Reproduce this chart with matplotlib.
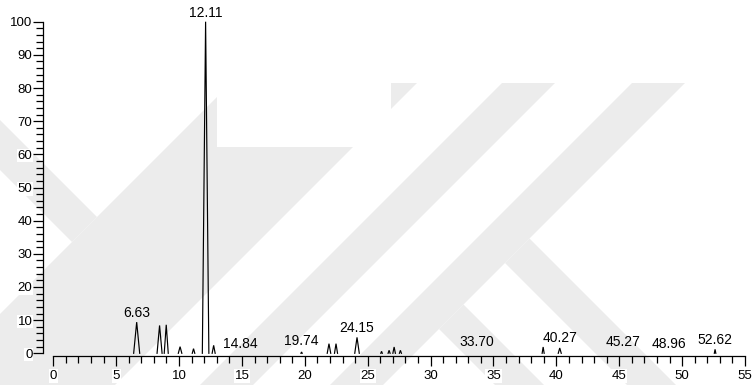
import matplotlib.pyplot as plt
from matplotlib.patches import Polygon, Rectangle
from matplotlib.ticker import MultipleLocator

plt.rcParams['font.family'] = ['Liberation Sans', 'DejaVu Sans']

# retention time (min), relative abundance (%), half width of the peak base (min)
peak_rt = [6.63, 8.45, 8.98, 10.08, 11.15, 12.11, 12.75, 19.74, 21.92, 22.48,
           24.15, 26.1, 26.7, 27.1, 27.6, 38.95, 40.27, 52.62]
peak_height = [9.4, 8.4, 8.6, 2.0, 1.4, 100, 2.4, 0.4, 2.9, 2.9,
               4.8, 0.6, 0.9, 1.9, 0.9, 1.9, 1.6, 1.2]
peak_halfwidth = [0.24, 0.2, 0.16, 0.14, 0.1, 0.26, 0.12, 0.05, 0.14, 0.12,
                  0.18, 0.06, 0.08, 0.1, 0.08, 0.08, 0.12, 0.06]

# annotated retention times and the height the label sits on
label_rt = [6.63, 12.11, 14.84, 19.74, 24.15, 33.70, 40.27, 45.27, 48.96, 52.62]
label_y = [9.4, 100, 0.0, 0.9, 5.0, 0.6, 1.8, 0.6, 0.0, 1.2]

W, H = 755, 385
fig = plt.figure(figsize=(W / 100, H / 100), dpi=100)

# faint logo watermark behind the chart (pixel coords, y down)
bg = fig.add_axes([0, 0, 1, 1], zorder=-1)
bg.set_xlim(0, W)
bg.set_ylim(H, 0)
bg.axis('off')
wm_grey = '#ececec'
wm = [
    [(231, 83), (417, 83), (115, 385), (-71, 385)],          # long "/" band
    [(-10, 110), (97, 217), (72, 242), (-10, 160)],          # left "\" arm
    [(502, 83), (555, 83), (253, 385), (200, 385)],          # second "/"
    [(632, 83), (685, 83), (383, 385), (330, 385)],          # third "/"
    [(529.5, 238.5), (800, 509), (800, 558), (505, 263)],    # "\" leg of K
    [(463.5, 304.5), (544, 385), (495, 385), (439, 329)],    # lower "\" leg
]
for pts in wm:
    bg.add_patch(Polygon(pts, closed=True, facecolor=wm_grey, edgecolor='none'))
bg.add_patch(Rectangle((217, 0), 174, 147, facecolor='white', edgecolor='none'))

ax = fig.add_axes([53.3 / W, (H - 353.3) / H, (745 - 53.3) / W, (353.3 - 21.7) / H])
ax.patch.set_alpha(0)

# each peak drawn as a narrow spike
for rt, h, hw in zip(peak_rt, peak_height, peak_halfwidth):
    ax.plot([rt - hw, rt, rt + hw], [0, h, 0], color='black', lw=0.85,
            solid_joinstyle='miter', clip_on=False)

for rt, y in zip(label_rt, label_y):
    ax.annotate('{:.2f}'.format(rt), (rt, y), xytext=(0, 1.5), textcoords='offset points',
                ha='center', va='bottom', fontsize=10, annotation_clip=False)

ax.set_xlim(0, 55)
ax.set_ylim(0, 100)
ax.xaxis.set_major_locator(MultipleLocator(5))
ax.xaxis.set_minor_locator(MultipleLocator(1))
ax.yaxis.set_major_locator(MultipleLocator(10))
ax.yaxis.set_minor_locator(MultipleLocator(2))

for s in ['top', 'right']:
    ax.spines[s].set_visible(False)
ax.spines['left'].set_position(('outward', 7.5))
ax.spines['bottom'].set_position(('outward', 2))
for s in ['left', 'bottom']:
    ax.spines[s].set_linewidth(0.9)

ax.tick_params(axis='both', which='major', direction='out', length=7, width=0.9,
               labelsize=9.5, color='black')
ax.tick_params(axis='both', which='minor', direction='out', length=4.7, width=0.9)
ax.tick_params(axis='y', which='major', pad=0.5)
ax.tick_params(axis='x', which='major', pad=3)

for lbl in ax.get_xticklabels() + ax.get_yticklabels():
    lbl.set_bbox(dict(facecolor='white', edgecolor='none', pad=0.5))

fig.savefig('out.png', dpi=100)
